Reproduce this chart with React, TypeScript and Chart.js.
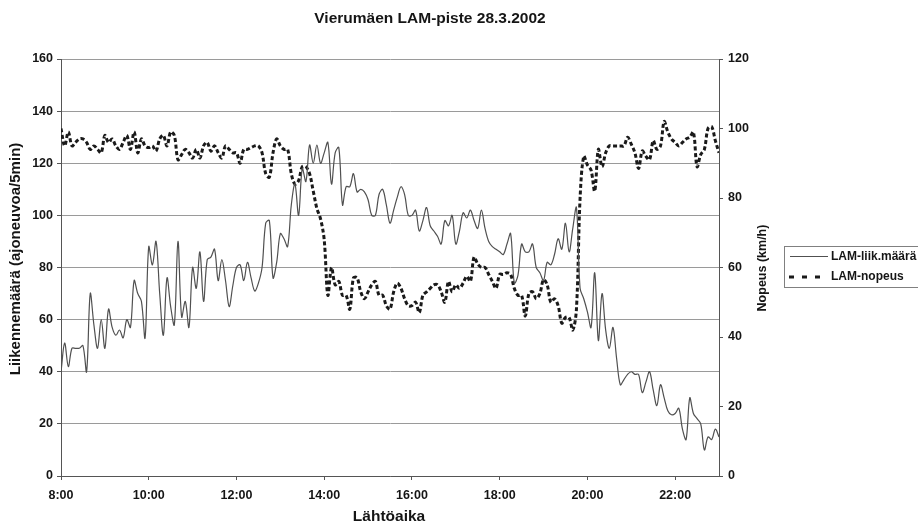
import { useEffect, useRef } from 'react';
import { Chart, registerables } from 'chart.js';

Chart.register(...registerables);

// ---- data (5-minute samples from 8:00 to 23:00) ----
const START_MIN = 480;
const STEP_MIN = 5;

const trafficCount = [
  40, 51, 42, 49, 49, 49, 50, 40, 70, 58, 49, 60, 49, 64, 57, 54, 56, 53, 60, 57,
  75, 70, 67, 53, 88, 81, 90, 70, 54, 76, 65, 58, 90, 61, 67, 57, 80, 72, 86, 67,
  83, 84, 87, 75, 83, 75, 65, 73, 80, 81, 75, 82, 76, 71, 74, 80, 97, 98, 76, 82,
  93, 91, 88, 104, 112, 100, 118, 113, 127, 120, 127, 120, 124, 128, 112, 124, 126, 104, 111, 111,
  116, 109, 110, 109, 106, 100, 100, 108, 110, 104, 97, 102, 107, 111, 108, 100, 100, 102, 94, 98,
  103, 96, 94, 92, 89, 98, 96, 100, 89, 94, 101, 99, 102, 98, 95, 102, 95, 90, 88, 87,
  86, 85, 89, 93, 74, 77, 89, 86, 86, 89, 80, 78, 75, 82, 81, 85, 91, 87, 97, 86,
  95, 103, 72, 68, 63, 57, 78, 52, 70, 56, 49, 57, 45, 35, 37, 39, 40, 39, 39, 32,
  36, 40, 33, 27, 35, 30, 25, 23.5, 24, 26, 18, 14, 30, 24, 22, 20, 10, 15, 14, 18,
  15,
];

const speedKmh = [
  100, 95, 99, 95, 96, 97, 97, 96, 94, 95, 94, 93, 98, 96, 97, 95, 94, 96, 98, 94,
  99, 93, 97, 95, 94.5, 95, 93.5, 97, 98, 95, 99, 98, 91, 92.5, 94, 93, 91.5, 94, 91.5, 95,
  96, 93.5, 95, 93, 91.5, 95, 94, 93, 93, 90, 94, 94, 94.5, 95, 95, 93, 87, 86, 93, 97,
  95, 94, 94, 87, 84, 85, 89, 89, 87, 82, 77, 74, 68, 52, 60, 55, 56, 52, 52, 48,
  57, 57, 53, 51, 53, 55, 56, 52, 52, 49, 48, 53, 55.5, 54, 51, 49, 49, 50, 47, 52,
  53, 54, 55, 55, 53, 50, 56, 53, 55, 54, 55.5, 57.5, 56, 63, 61, 60, 60, 58, 56, 54,
  58, 58, 58.5, 58, 54, 52, 52, 46, 52.5, 53, 51, 52.5, 56.5, 55, 50, 51, 49, 44, 45.6, 45.6,
  42, 48, 80, 92, 89.5, 88, 82, 94, 89, 93, 95, 95, 95, 95, 95, 97.5, 95.5, 93, 88.5, 93.5,
  92, 91, 96.5, 94, 95, 102, 99, 97, 96, 95, 96, 97, 97.5, 99, 89, 92.5, 94, 100, 100.5, 96.5,
  93,
];

const xTickMinutes = [480, 600, 720, 840, 960, 1080, 1200, 1320];
const xTickLabels = ['8:00', '10:00', '12:00', '14:00', '16:00', '18:00', '20:00', '22:00'];

const CHART_TITLE = 'Vierumäen LAM-piste 28.3.2002';
const X_TITLE = 'Lähtöaika';
const Y_TITLE = 'Liikennemäärä (ajoneuvoa/5min)';
const Y2_TITLE = 'Nopeus (km/h)';
const SERIES_NAMES = ['LAM-liik.määrä', 'LAM-nopeus'];

const FONT = '"Liberation Sans", Arial, sans-serif';
const TEXT = '#151515';
const TRAFFIC_COLOR = '#505050';
const SPEED_COLOR = '#1a1a1a';

const overlay = {
  id: 'overlay',
  afterDraw(chart: any) {
    const ctx = chart.ctx as CanvasRenderingContext2D;
    ctx.save();
    ctx.fillStyle = TEXT;
    ctx.textAlign = 'center';
    ctx.textBaseline = 'middle';

    ctx.font = `bold 15.5px ${FONT}`;
    ctx.fillText(CHART_TITLE, 430, 19);
    ctx.font = `bold 15.5px ${FONT}`;
    ctx.fillText(X_TITLE, 389, 517);

    ctx.save();
    ctx.translate(16, 259);
    ctx.rotate(-Math.PI / 2);
    ctx.font = `bold 15px ${FONT}`;
    ctx.fillText(Y_TITLE, 0, 0);
    ctx.restore();

    ctx.save();
    ctx.translate(763, 268);
    ctx.rotate(-Math.PI / 2);
    ctx.font = `bold 12.5px ${FONT}`;
    ctx.fillText(Y2_TITLE, 0, 0);
    ctx.restore();

    // legend
    ctx.strokeStyle = '#808080';
    ctx.lineWidth = 1;
    ctx.strokeRect(784.5, 246.5, 140, 41);

    ctx.strokeStyle = TRAFFIC_COLOR;
    ctx.lineWidth = 1.2;
    ctx.beginPath();
    ctx.moveTo(790, 256.5);
    ctx.lineTo(828, 256.5);
    ctx.stroke();

    ctx.strokeStyle = SPEED_COLOR;
    ctx.lineWidth = 3;
    ctx.setLineDash([5, 8]);
    ctx.beginPath();
    ctx.moveTo(789, 277);
    ctx.lineTo(828, 277);
    ctx.stroke();
    ctx.setLineDash([]);

    ctx.textAlign = 'left';
    ctx.font = `bold 12px ${FONT}`;
    ctx.fillText(SERIES_NAMES[0], 831, 257);
    ctx.fillText(SERIES_NAMES[1], 831, 277);
    ctx.restore();
  },
};

export default function App() {
  const ref = useRef<HTMLCanvasElement>(null);

  useEffect(() => {
    document.body.style.margin = '0';
    const canvas = ref.current!;
    const toPoints = (arr: number[]) =>
      arr.map((v, i) => ({ x: START_MIN + i * STEP_MIN, y: v }));

    const chart = new Chart(canvas, {
      type: 'line',
      data: {
        datasets: [
          {
            label: SERIES_NAMES[0],
            data: toPoints(trafficCount),
            yAxisID: 'y',
            borderColor: TRAFFIC_COLOR,
            borderWidth: 1.2,
            pointRadius: 0,
            tension: 0.35,
            fill: false,
          },
          {
            label: SERIES_NAMES[1],
            data: toPoints(speedKmh),
            yAxisID: 'y1',
            borderColor: SPEED_COLOR,
            borderWidth: 3,
            borderDash: [4, 2.5],
            pointRadius: 0,
            tension: 0.35,
            fill: false,
          },
        ],
      },
      options: {
        responsive: false,
        animation: false,
        devicePixelRatio: 1,
        layout: { padding: { top: 59, right: 139, bottom: 0, left: 0 } },
        plugins: {
          legend: { display: false },
          title: { display: false },
          tooltip: { enabled: false },
        },
        scales: {
          x: {
            type: 'linear',
            min: 480,
            max: 1380,
            afterBuildTicks: (s: any) => {
              s.ticks = xTickMinutes.map((v) => ({ value: v }));
            },
            afterFit: (s: any) => {
              s.height = 50;
            },
            ticks: {
              callback: (v: any) => xTickLabels[xTickMinutes.indexOf(Number(v))] ?? '',
              color: TEXT,
              font: { family: FONT, size: 12.5, weight: 'bold' },
              padding: 8,
              maxRotation: 0,
              autoSkip: false,
            },
            grid: { drawOnChartArea: false, drawTicks: true, tickLength: 4, color: '#555' },
            border: { display: true, color: '#555', width: 1 },
          },
          y: {
            position: 'left',
            min: 0,
            max: 160,
            ticks: {
              stepSize: 20,
              color: TEXT,
              font: { family: FONT, size: 12.5, weight: 'bold' },
              padding: 4,
            },
            afterFit: (s: any) => {
              s.width = 61;
            },
            grid: { color: '#9a9a9a', lineWidth: 1, drawTicks: true, tickLength: 4, tickColor: '#555' },
            border: { display: true, color: '#555', width: 1 },
          },
          y1: {
            position: 'right',
            min: 0,
            max: 120,
            ticks: {
              stepSize: 20,
              color: TEXT,
              font: { family: FONT, size: 12.5, weight: 'bold' },
              padding: 5,
            },
            afterFit: (s: any) => {
              s.width = 60;
            },
            grid: { drawOnChartArea: false, drawTicks: true, tickLength: 4, color: '#555' },
            border: { display: true, color: '#555', width: 1 },
          },
        },
      } as any,
      plugins: [overlay],
    });

    return () => chart.destroy();
  }, []);

  return (
    <div style={{ width: 918, height: 526, background: '#fff' }}>
      <canvas ref={ref} width={918} height={526} style={{ display: 'block' }} />
    </div>
  );
}
